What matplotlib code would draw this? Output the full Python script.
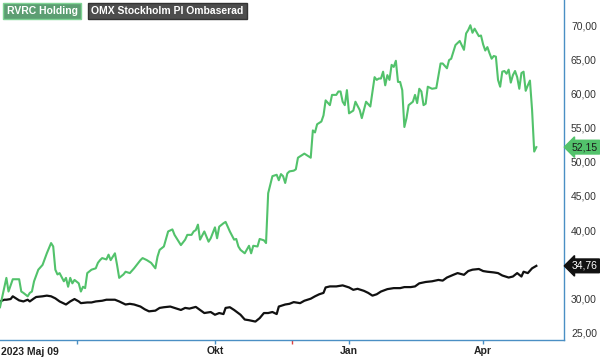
import matplotlib
matplotlib.use("Agg")
import matplotlib.pyplot as plt
import matplotlib.ticker as mticker

plt.rcParams["font.family"] = ["Liberation Sans", "DejaVu Sans"]

# x = trading-day index from 2023-05-09 (Stockholm sessions)
rvrc_idx = [0, 3, 4, 6, 9, 10, 11, 13, 14, 15, 16, 18, 20, 22, 24, 25, 26, 27, 28, 30,
            31, 32, 33, 34, 35, 37, 38, 39, 40, 41, 43, 45, 46, 47, 48, 50, 51, 52, 54, 55,
            56, 58, 59, 61, 63, 66, 67, 69, 71, 73, 74, 75, 77, 79, 81, 82, 85, 87, 88, 90,
            91, 92, 93, 94, 96, 98, 99, 101, 102, 103, 105, 106, 108, 110, 111, 112, 113, 115, 117, 118,
            119, 121, 122, 124, 125, 126, 128, 130, 131, 132, 133, 134, 135, 136, 138, 139, 140, 141, 143, 144,
            146, 147, 148, 149, 151, 152, 153, 155, 156, 158, 159, 160, 161, 162, 163, 164, 166, 167, 169, 170,
            172, 174, 176, 177, 178, 179, 180, 181, 182, 183, 184, 185, 186, 187, 188, 189, 190, 191, 192, 194,
            195, 196, 197, 198, 199, 200, 201, 203, 205, 207, 208, 210, 211, 212, 214, 216, 218, 219, 220, 221,
            222, 223, 225, 226, 227, 228, 229, 230, 231, 232, 233, 234, 235, 236, 237, 238, 239, 240, 241, 242,
            243, 244, 245, 246, 247, 248, 249, 250, 251, 252]
rvrc_val = [28.7, 33.0, 31.0, 32.8, 32.8, 31.0, 30.8, 30.3, 30.8, 31.0, 32.5, 34.2, 34.9, 36.6, 38.1, 37.6, 34.2, 33.5, 33.7, 32.5,
            33.0, 31.7, 33.0, 32.2, 32.7, 32.2, 31.0, 31.7, 31.5, 33.7, 34.2, 34.4, 35.2, 35.6, 35.9, 35.7, 36.4, 35.6, 36.6, 34.9,
            33.0, 33.5, 33.9, 33.7, 34.4, 35.6, 35.9, 35.6, 35.2, 34.4, 36.1, 37.1, 37.6, 39.8, 40.1, 39.3, 37.8, 38.6, 39.3, 39.3,
            39.8, 40.0, 40.8, 38.6, 39.8, 38.3, 38.8, 40.4, 38.8, 40.5, 41.0, 41.2, 39.8, 38.6, 38.7, 37.6, 37.1, 36.6, 37.7, 36.6,
            37.7, 37.6, 38.7, 38.5, 38.1, 45.4, 47.9, 48.1, 47.3, 48.2, 47.9, 46.9, 48.3, 48.6, 48.7, 48.9, 50.6, 50.8, 51.2, 51.0,
            50.6, 54.6, 54.3, 55.5, 55.9, 56.8, 59.0, 58.3, 59.8, 59.8, 60.3, 60.3, 58.8, 58.3, 60.5, 57.1, 57.5, 58.8, 57.6, 56.4,
            58.8, 58.1, 62.4, 62.0, 62.2, 62.2, 63.2, 61.2, 62.7, 62.0, 64.2, 63.9, 64.8, 61.7, 61.7, 60.5, 55.1, 56.4, 58.3, 58.8,
            59.8, 58.6, 60.7, 60.3, 58.3, 58.5, 61.0, 60.7, 60.8, 64.4, 64.4, 63.7, 64.9, 65.1, 67.1, 67.7, 66.4, 68.8, 69.3, 70.0,
            68.9, 69.5, 68.4, 68.5, 67.2, 66.3, 66.8, 65.9, 65.1, 65.5, 65.4, 62.0, 61.0, 63.2, 63.3, 62.9, 63.5, 61.6, 62.7, 63.3,
            62.4, 60.7, 63.0, 63.2, 60.4, 61.2, 61.9, 57.6, 51.5, 52.15]

omx_idx = [0, 2, 3, 5, 6, 8, 9, 11, 13, 14, 16, 17, 20, 22, 24, 26, 28, 31, 33, 35,
           37, 38, 41, 43, 45, 48, 50, 52, 54, 56, 59, 61, 63, 66, 68, 70, 73, 75, 77, 80,
           82, 85, 87, 89, 92, 94, 96, 99, 101, 103, 105, 106, 108, 110, 113, 115, 117, 120, 122, 124,
           126, 128, 130, 131, 134, 136, 138, 141, 143, 146, 148, 150, 152, 153, 155, 158, 161, 164, 166, 168,
           171, 173, 175, 177, 179, 182, 185, 188, 190, 193, 195, 197, 200, 203, 206, 208, 210, 213, 215, 218,
           220, 222, 225, 227, 229, 232, 234, 236, 239, 241, 243, 245, 246, 248, 250, 252]
omx_val = [29.55, 29.8, 29.8, 29.9, 30.3, 29.9, 29.7, 29.55, 29.8, 29.55, 30.0, 30.2, 30.3, 30.4, 30.3, 30.0, 29.55, 29.1, 29.55, 29.9,
           29.55, 29.3, 29.4, 29.4, 29.55, 29.65, 29.8, 29.8, 29.8, 29.55, 29.1, 29.2, 29.1, 28.8, 28.4, 28.1, 28.2, 28.6, 28.7, 28.8,
           28.6, 28.3, 28.6, 28.5, 28.75, 28.3, 27.85, 28.0, 27.6, 27.85, 27.7, 28.6, 28.7, 28.3, 27.6, 26.9, 26.8, 26.6, 27.1, 27.85,
           27.85, 28.0, 27.7, 28.8, 29.1, 29.2, 29.45, 29.3, 29.65, 29.95, 30.3, 30.6, 30.8, 31.6, 31.75, 31.75, 31.9, 31.6, 31.25, 31.4,
           31.1, 30.8, 30.4, 30.6, 31.0, 31.35, 31.5, 31.5, 31.65, 31.65, 31.75, 32.2, 32.4, 32.5, 32.7, 32.6, 33.05, 33.45, 33.7, 33.45,
           34.0, 34.2, 34.3, 34.0, 33.9, 33.8, 33.7, 33.35, 33.05, 33.2, 33.7, 33.2, 33.9, 33.7, 34.4, 34.76]

month_ticks = [36, 101, 164, 227]
month_labels = ["", "Okt", "Jan", "Apr"]
start_label = "2023 Maj 09"
event_tick = [137]
# 35,00 is hidden behind the OMX last-value tag in the original
yticks = [25, 30, 40, 45, 50, 55, 60, 65, 70]

GREEN = "#52c26b"
AXIS_BLUE = "#4a8fc4"

fig = plt.figure(figsize=(6, 3.57), dpi=100)
ax = fig.add_axes([0.0, 0.0476, 0.94, 0.9524])

ax.plot(omx_idx, omx_val, color="#111111", lw=1.6, solid_joinstyle="round")
ax.plot(rvrc_idx, rvrc_val, color=GREEN, lw=1.5, solid_joinstyle="round")

ax.set_xlim(0, 265)
ax.set_ylim(23.9, 73.7)

for side in ("top", "left"):
    ax.spines[side].set_visible(False)
for side in ("bottom", "right"):
    ax.spines[side].set_color(AXIS_BLUE)
    ax.spines[side].set_linewidth(1.0)

ax.yaxis.tick_right()
ax.set_yticks(yticks)
ax.yaxis.set_major_formatter(mticker.FuncFormatter(lambda v, _: f"{v:.2f}".replace(".", ",")))
ax.tick_params(axis="y", length=0, pad=5, labelsize=7.5, labelcolor="#333333")

ax.set_xticks(month_ticks)
ax.set_xticklabels(month_labels, fontweight="bold")
ax.set_xticks(event_tick, minor=True)
ax.tick_params(axis="x", which="major", length=3, width=1, color=AXIS_BLUE,
               labelsize=7.5, labelcolor="#222222", pad=1.5)
ax.tick_params(axis="x", which="minor", length=3, width=1, color="#e04040")
ax.text(0.002, -0.02, start_label, transform=ax.transAxes, ha="left", va="top",
        fontsize=7.5, fontweight="bold", color="#222222")

# last-value tags on the right axis
for val, fc, tc in [(rvrc_val[-1], GREEN, "#1a1a1a"), (omx_val[-1], "#111111", "white")]:
    ax.annotate(f"{val:.2f}".replace(".", ","), xy=(1.0, val),
                xycoords=("axes fraction", "data"), xytext=(5.5, 0), textcoords="offset points",
                ha="left", va="center", fontsize=7.5, color=tc, annotation_clip=False, zorder=5,
                bbox=dict(boxstyle="larrow,pad=0.18", fc=fc, ec=fc))

# legend boxes
fig.text(0.011, 0.983, "RVRC Holding", ha="left", va="top", fontsize=7.5, fontweight="bold",
         color="white", bbox=dict(boxstyle="square,pad=0.3", fc="#5c9e72", ec="#7fd394", lw=1))
fig.text(0.152, 0.983, "OMX Stockholm PI Ombaserad", ha="left", va="top", fontsize=7.5,
         fontweight="bold", color="white",
         bbox=dict(boxstyle="square,pad=0.3", fc="#4d4d4d", ec="#333333", lw=1))

fig.savefig("out.png", dpi=100)
